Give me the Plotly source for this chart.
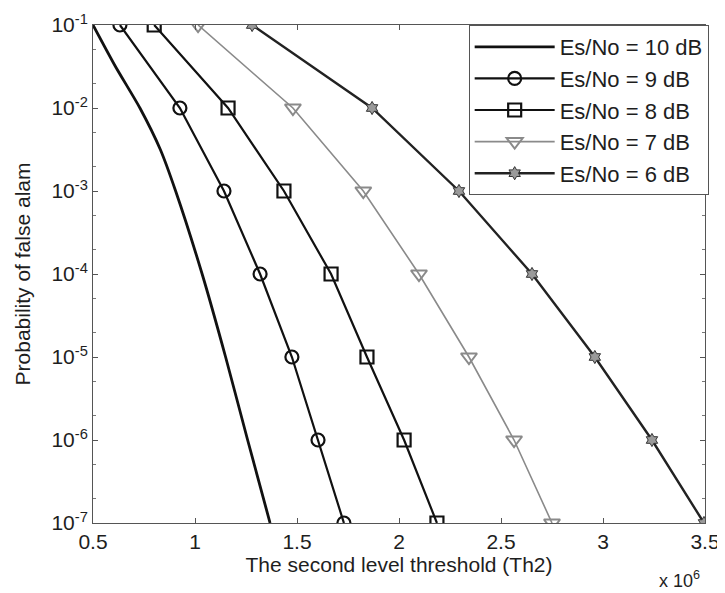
import plotly.graph_objects as go

pfa = [1e-1, 1e-2, 1e-3, 1e-4, 1e-5, 1e-6, 1e-7]
pfa_10dB = [1e-1, 10 ** -1.5, 1e-2, 10 ** -2.5, 1e-3, 1e-4, 1e-5, 1e-6, 1e-7]
th_10dB = [0.50, 0.61, 0.73, 0.83, 0.905, 1.035, 1.15, 1.258, 1.368]
th_9dB = [0.632, 0.926, 1.142, 1.319, 1.475, 1.603, 1.73]
th_8dB = [0.80, 1.162, 1.436, 1.667, 1.843, 2.025, 2.186]
th_7dB = [1.015, 1.48, 1.825, 2.098, 2.343, 2.564, 2.75]
th_6dB = [1.28, 1.868, 2.294, 2.652, 2.96, 3.24, 3.495]

labels = ["Es/No = 10 dB", "Es/No = 9 dB", "Es/No = 8 dB", "Es/No = 7 dB", "Es/No = 6 dB"]
x_ticks = [0.5, 1, 1.5, 2, 2.5, 3, 3.5]
x_ticktext = ["0.5", "1", "1.5", "2", "2.5", "3", "3.5"]
y_ticks = pfa
y_ticktext = ["10<sup>-1</sup>", "10<sup>-2</sup>", "10<sup>-3</sup>", "10<sup>-4</sup>",
              "10<sup>-5</sup>", "10<sup>-6</sup>", "10<sup>-7</sup>"]

FONT = "Liberation Sans, Arial"
TXT = "#1e1e1e"

fig = go.Figure()
fig.add_trace(go.Scatter(x=th_10dB, y=pfa_10dB, mode="lines", name=labels[0], legendgroup="a",
                         line=dict(color="#111111", width=2.8, shape="spline", smoothing=0.6)))
fig.add_trace(go.Scatter(x=th_9dB, y=pfa, mode="lines+markers", name=labels[1], legendgroup="b",
                         line=dict(color="#111111", width=2.2),
                         marker=dict(symbol="circle-open", size=13, color="#111111", line=dict(width=2.2))))
fig.add_trace(go.Scatter(x=th_8dB, y=pfa, mode="lines+markers", name=labels[2], legendgroup="c",
                         line=dict(color="#111111", width=2.2),
                         marker=dict(symbol="square-open", size=13, color="#111111", line=dict(width=2.2))))
fig.add_trace(go.Scatter(x=th_7dB, y=pfa, mode="lines+markers", name=labels[3], legendgroup="d",
                         line=dict(color="#8a8a8a", width=1.6),
                         marker=dict(symbol="triangle-down-open", size=14, color="#8a8a8a", line=dict(width=2))))
fig.add_trace(go.Scatter(x=th_6dB, y=pfa, mode="lines+markers", name=labels[4], legendgroup="e",
                         line=dict(color="#222222", width=2.4),
                         marker=dict(symbol="hexagram", size=10, color="#9a9a9a",
                                     line=dict(color="#333333", width=1))))

axis_common = dict(showline=True, linecolor="#555555", linewidth=1, mirror="ticks",
                   ticks="inside", ticklen=5, tickcolor="#555555", showgrid=False, zeroline=False,
                   automargin=False,
                   tickfont=dict(family=FONT, size=21, color=TXT))

fig.update_xaxes(range=[0.5, 3.5], tickvals=x_ticks, ticktext=x_ticktext,
                 title=dict(text="The second level threshold (Th2)", standoff=0,
                            font=dict(family=FONT, size=21, color=TXT)),
                 **axis_common)
fig.update_yaxes(type="log", range=[-7, -1], tickvals=y_ticks, ticktext=y_ticktext,
                 minor=dict(ticks="inside", ticklen=3, tickcolor="#777777", showgrid=False),
                 title=dict(text="Probability of false alam",
                            font=dict(family=FONT, size=21, color=TXT)),
                 **axis_common)

fig.add_annotation(x=1, y=0, xref="paper", yref="paper", xanchor="right", yanchor="top",
                   xshift=-3, yshift=-43, showarrow=False,
                   text="x 10<sup>6</sup>",
                   font=dict(family=FONT, size=18, color=TXT))

fig.update_layout(
    width=717, height=585,
    margin=dict(l=85, r=20, t=17, b=70),
    paper_bgcolor="white", plot_bgcolor="white",
    showlegend=True,
    legend=dict(x=1.006, y=1, xanchor="right", yanchor="top",
                bgcolor="white", bordercolor="#555555", borderwidth=1,
                font=dict(family=FONT, size=22, color=TXT),
                itemwidth=80, tracegroupgap=0),
)

fig.write_html("out.html")
